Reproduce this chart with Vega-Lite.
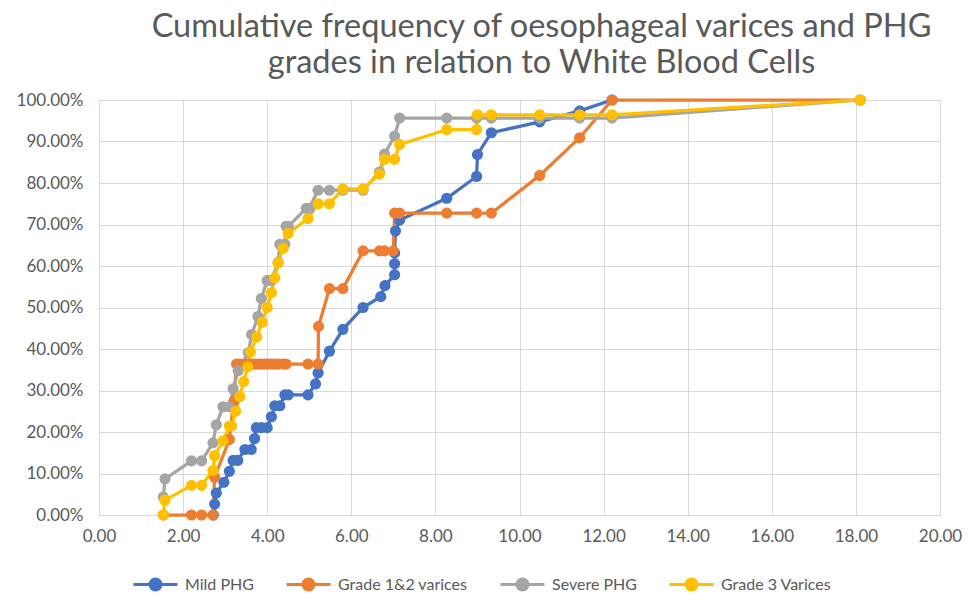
{
  "$schema": "https://vega.github.io/schema/vega-lite/v6.json",
  "width": 841,
  "height": 415,
  "autosize": "none",
  "padding": {"left": 99, "top": 100, "right": 29, "bottom": 81},
  "background": "white",
  "config": {"font": "Lato", "view": {"stroke": null}},
  "title": {
    "text": ["Cumulative frequency of oesophageal varices and PHG", "grades in relation to White Blood Cells"],
    "fontSize": 32.5, "fontWeight": "normal", "font": "Lato", "color": "#595959",
    "lineHeight": 36, "anchor": "middle", "dx": 22, "offset": 12
  },
  "data": {"values": [
    {"s": "Mild PHG", "i": 1, "x": 2.72, "y": 0},
    {"s": "Mild PHG", "i": 2, "x": 2.75, "y": 2.63},
    {"s": "Mild PHG", "i": 3, "x": 2.79, "y": 5.26},
    {"s": "Mild PHG", "i": 4, "x": 2.97, "y": 7.89},
    {"s": "Mild PHG", "i": 5, "x": 3.1, "y": 10.53},
    {"s": "Mild PHG", "i": 6, "x": 3.19, "y": 13.16},
    {"s": "Mild PHG", "i": 7, "x": 3.3, "y": 13.16},
    {"s": "Mild PHG", "i": 8, "x": 3.47, "y": 15.79},
    {"s": "Mild PHG", "i": 9, "x": 3.62, "y": 15.79},
    {"s": "Mild PHG", "i": 10, "x": 3.7, "y": 18.42},
    {"s": "Mild PHG", "i": 11, "x": 3.74, "y": 21.05},
    {"s": "Mild PHG", "i": 12, "x": 3.86, "y": 21.05},
    {"s": "Mild PHG", "i": 13, "x": 4.0, "y": 21.05},
    {"s": "Mild PHG", "i": 14, "x": 4.1, "y": 23.68},
    {"s": "Mild PHG", "i": 15, "x": 4.18, "y": 26.32},
    {"s": "Mild PHG", "i": 16, "x": 4.3, "y": 26.32},
    {"s": "Mild PHG", "i": 17, "x": 4.42, "y": 28.95},
    {"s": "Mild PHG", "i": 18, "x": 4.5, "y": 28.95},
    {"s": "Mild PHG", "i": 19, "x": 4.97, "y": 28.95},
    {"s": "Mild PHG", "i": 20, "x": 5.15, "y": 31.58},
    {"s": "Mild PHG", "i": 21, "x": 5.21, "y": 34.21},
    {"s": "Mild PHG", "i": 22, "x": 5.48, "y": 39.47},
    {"s": "Mild PHG", "i": 23, "x": 5.8, "y": 44.74},
    {"s": "Mild PHG", "i": 24, "x": 6.28, "y": 50.0},
    {"s": "Mild PHG", "i": 25, "x": 6.7, "y": 52.63},
    {"s": "Mild PHG", "i": 26, "x": 6.8, "y": 55.26},
    {"s": "Mild PHG", "i": 27, "x": 7.03, "y": 57.89},
    {"s": "Mild PHG", "i": 28, "x": 7.03, "y": 60.53},
    {"s": "Mild PHG", "i": 29, "x": 7.03, "y": 63.16},
    {"s": "Mild PHG", "i": 30, "x": 7.05, "y": 68.42},
    {"s": "Mild PHG", "i": 31, "x": 7.15, "y": 71.05},
    {"s": "Mild PHG", "i": 32, "x": 8.27, "y": 76.32},
    {"s": "Mild PHG", "i": 33, "x": 8.98, "y": 81.58},
    {"s": "Mild PHG", "i": 34, "x": 9.0, "y": 86.84},
    {"s": "Mild PHG", "i": 35, "x": 9.33, "y": 92.11},
    {"s": "Mild PHG", "i": 36, "x": 10.48, "y": 94.74},
    {"s": "Mild PHG", "i": 37, "x": 11.43, "y": 97.37},
    {"s": "Mild PHG", "i": 38, "x": 12.2, "y": 100},

    {"s": "Grade 1&2 varices", "i": 101, "x": 1.53, "y": 0},
    {"s": "Grade 1&2 varices", "i": 102, "x": 2.2, "y": 0},
    {"s": "Grade 1&2 varices", "i": 103, "x": 2.44, "y": 0},
    {"s": "Grade 1&2 varices", "i": 104, "x": 2.71, "y": 0},
    {"s": "Grade 1&2 varices", "i": 105, "x": 2.75, "y": 9.09},
    {"s": "Grade 1&2 varices", "i": 106, "x": 3.1, "y": 18.18},
    {"s": "Grade 1&2 varices", "i": 107, "x": 3.2, "y": 27.27},
    {"s": "Grade 1&2 varices", "i": 108, "x": 3.27, "y": 36.36},
    {"s": "Grade 1&2 varices", "i": 109, "x": 3.35, "y": 36.36},
    {"s": "Grade 1&2 varices", "i": 110, "x": 3.47, "y": 36.36},
    {"s": "Grade 1&2 varices", "i": 111, "x": 3.55, "y": 36.36},
    {"s": "Grade 1&2 varices", "i": 112, "x": 3.63, "y": 36.36},
    {"s": "Grade 1&2 varices", "i": 113, "x": 3.7, "y": 36.36},
    {"s": "Grade 1&2 varices", "i": 114, "x": 3.78, "y": 36.36},
    {"s": "Grade 1&2 varices", "i": 115, "x": 3.86, "y": 36.36},
    {"s": "Grade 1&2 varices", "i": 116, "x": 3.95, "y": 36.36},
    {"s": "Grade 1&2 varices", "i": 117, "x": 4.02, "y": 36.36},
    {"s": "Grade 1&2 varices", "i": 118, "x": 4.1, "y": 36.36},
    {"s": "Grade 1&2 varices", "i": 119, "x": 4.18, "y": 36.36},
    {"s": "Grade 1&2 varices", "i": 120, "x": 4.26, "y": 36.36},
    {"s": "Grade 1&2 varices", "i": 121, "x": 4.38, "y": 36.36},
    {"s": "Grade 1&2 varices", "i": 122, "x": 4.45, "y": 36.36},
    {"s": "Grade 1&2 varices", "i": 123, "x": 4.97, "y": 36.36},
    {"s": "Grade 1&2 varices", "i": 124, "x": 5.21, "y": 36.36},
    {"s": "Grade 1&2 varices", "i": 125, "x": 5.22, "y": 45.45},
    {"s": "Grade 1&2 varices", "i": 126, "x": 5.48, "y": 54.55},
    {"s": "Grade 1&2 varices", "i": 127, "x": 5.8, "y": 54.55},
    {"s": "Grade 1&2 varices", "i": 128, "x": 6.28, "y": 63.64},
    {"s": "Grade 1&2 varices", "i": 129, "x": 6.67, "y": 63.64},
    {"s": "Grade 1&2 varices", "i": 130, "x": 6.79, "y": 63.64},
    {"s": "Grade 1&2 varices", "i": 131, "x": 7.0, "y": 63.64},
    {"s": "Grade 1&2 varices", "i": 132, "x": 7.03, "y": 72.73},
    {"s": "Grade 1&2 varices", "i": 133, "x": 7.15, "y": 72.73},
    {"s": "Grade 1&2 varices", "i": 134, "x": 8.27, "y": 72.73},
    {"s": "Grade 1&2 varices", "i": 135, "x": 8.98, "y": 72.73},
    {"s": "Grade 1&2 varices", "i": 136, "x": 9.33, "y": 72.73},
    {"s": "Grade 1&2 varices", "i": 137, "x": 10.48, "y": 81.82},
    {"s": "Grade 1&2 varices", "i": 138, "x": 11.43, "y": 90.91},
    {"s": "Grade 1&2 varices", "i": 139, "x": 12.2, "y": 100},
    {"s": "Grade 1&2 varices", "i": 140, "x": 18.1, "y": 100},

    {"s": "Severe PHG", "i": 201, "x": 1.53, "y": 4.35},
    {"s": "Severe PHG", "i": 202, "x": 1.57, "y": 8.7},
    {"s": "Severe PHG", "i": 203, "x": 2.2, "y": 13.04},
    {"s": "Severe PHG", "i": 204, "x": 2.44, "y": 13.04},
    {"s": "Severe PHG", "i": 205, "x": 2.71, "y": 17.39},
    {"s": "Severe PHG", "i": 206, "x": 2.79, "y": 21.74},
    {"s": "Severe PHG", "i": 207, "x": 2.95, "y": 26.09},
    {"s": "Severe PHG", "i": 208, "x": 3.1, "y": 26.09},
    {"s": "Severe PHG", "i": 209, "x": 3.19, "y": 30.43},
    {"s": "Severe PHG", "i": 210, "x": 3.31, "y": 34.78},
    {"s": "Severe PHG", "i": 211, "x": 3.55, "y": 39.13},
    {"s": "Severe PHG", "i": 212, "x": 3.63, "y": 43.48},
    {"s": "Severe PHG", "i": 213, "x": 3.78, "y": 47.83},
    {"s": "Severe PHG", "i": 214, "x": 3.86, "y": 52.17},
    {"s": "Severe PHG", "i": 215, "x": 4.0, "y": 56.52},
    {"s": "Severe PHG", "i": 216, "x": 4.1, "y": 56.52},
    {"s": "Severe PHG", "i": 217, "x": 4.26, "y": 60.87},
    {"s": "Severe PHG", "i": 218, "x": 4.3, "y": 65.22},
    {"s": "Severe PHG", "i": 219, "x": 4.42, "y": 65.22},
    {"s": "Severe PHG", "i": 220, "x": 4.45, "y": 69.57},
    {"s": "Severe PHG", "i": 221, "x": 4.5, "y": 69.57},
    {"s": "Severe PHG", "i": 222, "x": 4.93, "y": 73.91},
    {"s": "Severe PHG", "i": 223, "x": 5.0, "y": 73.91},
    {"s": "Severe PHG", "i": 224, "x": 5.21, "y": 78.26},
    {"s": "Severe PHG", "i": 225, "x": 5.48, "y": 78.26},
    {"s": "Severe PHG", "i": 226, "x": 5.8, "y": 78.26},
    {"s": "Severe PHG", "i": 227, "x": 6.28, "y": 78.26},
    {"s": "Severe PHG", "i": 228, "x": 6.67, "y": 82.61},
    {"s": "Severe PHG", "i": 229, "x": 6.79, "y": 86.96},
    {"s": "Severe PHG", "i": 230, "x": 7.03, "y": 91.3},
    {"s": "Severe PHG", "i": 231, "x": 7.15, "y": 95.65},
    {"s": "Severe PHG", "i": 232, "x": 8.27, "y": 95.65},
    {"s": "Severe PHG", "i": 233, "x": 8.98, "y": 95.65},
    {"s": "Severe PHG", "i": 234, "x": 9.33, "y": 95.65},
    {"s": "Severe PHG", "i": 235, "x": 10.48, "y": 95.65},
    {"s": "Severe PHG", "i": 236, "x": 11.43, "y": 95.65},
    {"s": "Severe PHG", "i": 237, "x": 12.2, "y": 95.65},
    {"s": "Severe PHG", "i": 238, "x": 18.1, "y": 100},

    {"s": "Grade 3 Varices", "i": 301, "x": 1.53, "y": 0},
    {"s": "Grade 3 Varices", "i": 302, "x": 1.57, "y": 3.57},
    {"s": "Grade 3 Varices", "i": 303, "x": 2.2, "y": 7.14},
    {"s": "Grade 3 Varices", "i": 304, "x": 2.44, "y": 7.14},
    {"s": "Grade 3 Varices", "i": 305, "x": 2.71, "y": 10.71},
    {"s": "Grade 3 Varices", "i": 306, "x": 2.75, "y": 14.29},
    {"s": "Grade 3 Varices", "i": 307, "x": 2.95, "y": 17.86},
    {"s": "Grade 3 Varices", "i": 308, "x": 3.1, "y": 21.43},
    {"s": "Grade 3 Varices", "i": 309, "x": 3.15, "y": 21.43},
    {"s": "Grade 3 Varices", "i": 310, "x": 3.25, "y": 25.0},
    {"s": "Grade 3 Varices", "i": 311, "x": 3.35, "y": 28.57},
    {"s": "Grade 3 Varices", "i": 312, "x": 3.44, "y": 32.14},
    {"s": "Grade 3 Varices", "i": 313, "x": 3.54, "y": 35.71},
    {"s": "Grade 3 Varices", "i": 314, "x": 3.6, "y": 39.29},
    {"s": "Grade 3 Varices", "i": 315, "x": 3.75, "y": 42.86},
    {"s": "Grade 3 Varices", "i": 316, "x": 3.88, "y": 46.43},
    {"s": "Grade 3 Varices", "i": 317, "x": 4.0, "y": 50.0},
    {"s": "Grade 3 Varices", "i": 318, "x": 4.1, "y": 53.57},
    {"s": "Grade 3 Varices", "i": 319, "x": 4.18, "y": 57.14},
    {"s": "Grade 3 Varices", "i": 320, "x": 4.26, "y": 60.71},
    {"s": "Grade 3 Varices", "i": 321, "x": 4.38, "y": 64.29},
    {"s": "Grade 3 Varices", "i": 322, "x": 4.5, "y": 67.86},
    {"s": "Grade 3 Varices", "i": 323, "x": 4.97, "y": 71.43},
    {"s": "Grade 3 Varices", "i": 324, "x": 5.21, "y": 75.0},
    {"s": "Grade 3 Varices", "i": 325, "x": 5.48, "y": 75.0},
    {"s": "Grade 3 Varices", "i": 326, "x": 5.8, "y": 78.57},
    {"s": "Grade 3 Varices", "i": 327, "x": 6.28, "y": 78.57},
    {"s": "Grade 3 Varices", "i": 328, "x": 6.67, "y": 82.14},
    {"s": "Grade 3 Varices", "i": 329, "x": 6.79, "y": 85.71},
    {"s": "Grade 3 Varices", "i": 330, "x": 7.03, "y": 85.71},
    {"s": "Grade 3 Varices", "i": 331, "x": 7.15, "y": 89.29},
    {"s": "Grade 3 Varices", "i": 332, "x": 8.27, "y": 92.86},
    {"s": "Grade 3 Varices", "i": 333, "x": 8.98, "y": 92.86},
    {"s": "Grade 3 Varices", "i": 334, "x": 9.0, "y": 96.43},
    {"s": "Grade 3 Varices", "i": 335, "x": 9.33, "y": 96.43},
    {"s": "Grade 3 Varices", "i": 336, "x": 10.48, "y": 96.43},
    {"s": "Grade 3 Varices", "i": 337, "x": 11.43, "y": 96.43},
    {"s": "Grade 3 Varices", "i": 338, "x": 12.2, "y": 96.43},
    {"s": "Grade 3 Varices", "i": 339, "x": 18.1, "y": 100}
  ]},
  "mark": {"type": "line", "strokeWidth": 3.25, "point": {"filled": true, "size": 125, "opacity": 1}},
  "encoding": {
    "x": {
      "field": "x", "type": "quantitative",
      "scale": {"domain": [0, 20], "nice": false, "zero": false},
      "axis": {
        "values": [0, 2, 4, 6, 8, 10, 12, 14, 16, 18, 20], "format": ".2f", "title": null,
        "grid": true, "gridColor": "#D9D9D9", "gridWidth": 1, "domainColor": "#D9D9D9", "domainWidth": 1,
        "ticks": false, "labelFontSize": 17, "labelColor": "#595959", "labelPadding": 13,
        "labelFont": "Lato", "labelFlush": false, "labelOverlap": false
      }
    },
    "y": {
      "field": "y", "type": "quantitative",
      "scale": {"domain": [0, 100], "nice": false},
      "axis": {
        "values": [0, 10, 20, 30, 40, 50, 60, 70, 80, 90, 100],
        "labelExpr": "format(datum.value / 100, '.2%')", "title": null,
        "domain": false, "ticks": false, "grid": true, "gridColor": "#D9D9D9", "gridWidth": 1,
        "labelFontSize": 17, "labelColor": "#595959", "labelPadding": 16,
        "labelFont": "Lato", "labelFlush": false, "labelOverlap": false
      }
    },
    "color": {
      "field": "s", "type": "nominal",
      "scale": {
        "domain": ["Mild PHG", "Grade 1&2 varices", "Severe PHG", "Grade 3 Varices"],
        "range": ["#4472C4", "#ED7D31", "#A5A5A5", "#FFC000"]
      },
      "legend": {
        "title": null, "orient": "none", "direction": "horizontal",
        "legendX": 33, "legendY": 461,
        "symbolType": "M-1,0H1M-0.25,0A0.25,0.25,0,1,1,0.25,0A0.25,0.25,0,1,1,-0.25,0Z",
        "symbolSize": 1936, "symbolStrokeWidth": 3,
        "labelFontSize": 16, "labelColor": "#595959", "labelFont": "Lato",
        "labelOffset": 6, "columnPadding": 26
      }
    },
    "order": {"field": "i", "type": "quantitative"}
  }
}
